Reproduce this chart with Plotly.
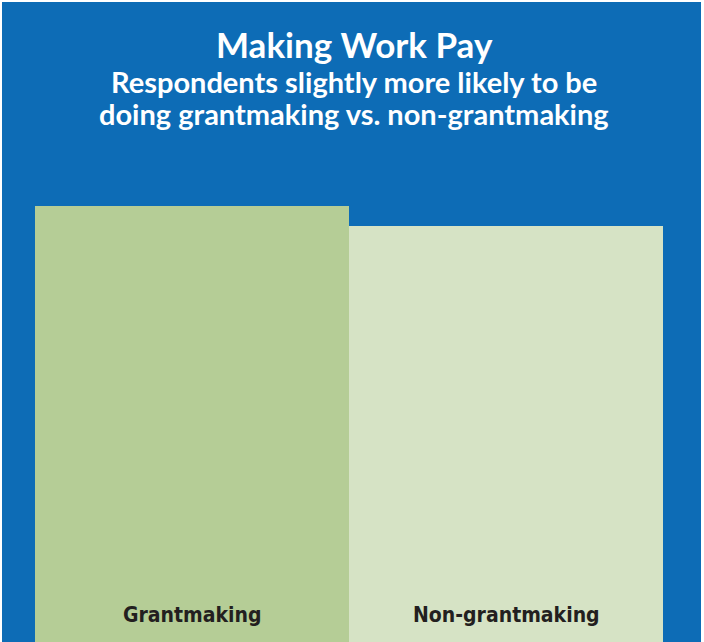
import plotly.graph_objects as go

categories = ["Grantmaking", "Non-grantmaking"]
values = [52.0, 49.6]
bar_colors = ["#b5cd96", "#d6e3c5"]
title_text = "Making Work Pay"
subtitle_lines = ["Respondents slightly more likely to be",
                  "doing grantmaking vs. non-grantmaking"]

W, H = 704, 642
ML, MR, MT, MB = 35, 41, 150, 0
PH = H - MT - MB
PW = W - ML - MR
YMAX = values[0] * PH / 436.0

def py(y):
    return (H - MB - y) / PH

def px(x):
    return (x - ML) / PW

BLUE = "#0d6cb6"

fig = go.Figure()
fig.add_trace(go.Bar(
    x=categories, y=values, marker=dict(color=bar_colors, line=dict(width=0)),
    hoverinfo="skip", showlegend=False,
))

annotations = [
    dict(text="<b>" + title_text + "</b>", x=px(354), xref="paper", y=py(44), yref="paper",
         yanchor="middle", xanchor="center", showarrow=False,
         font=dict(family="Lato", size=35, color="white")),
    dict(text=subtitle_lines[0], x=px(354), xref="paper", y=py(81), yref="paper",
         yanchor="middle", xanchor="center", showarrow=False,
         font=dict(family="Lato", size=29, color="white", weight=700)),
    dict(text=subtitle_lines[1], x=px(354), xref="paper", y=py(114), yref="paper",
         yanchor="middle", xanchor="center", showarrow=False,
         font=dict(family="Lato", size=29, color="white", weight=700)),
]
for c in categories:
    annotations.append(dict(text="<b>" + c + "</b>", x=c, xref="x", y=py(615), yref="paper",
                            yanchor="middle", xanchor="center", showarrow=False,
                            font=dict(family="DejaVu Sans Condensed, sans-serif",
                                      size=21, color="#231f20")))

fig.update_layout(
    width=W, height=H,
    margin=dict(l=ML, r=MR, t=MT, b=MB, pad=0),
    paper_bgcolor="white", plot_bgcolor="rgba(0,0,0,0)",
    bargap=0,
    xaxis=dict(visible=False, range=[-0.5, 1.5]),
    yaxis=dict(visible=False, range=[0, YMAX]),
    annotations=annotations,
    shapes=[dict(type="rect", xref="paper", yref="paper", layer="below",
                 x0=px(2), x1=px(701), y0=py(H + 5), y1=py(2),
                 fillcolor=BLUE, line=dict(width=0))],
)
fig.write_html("out.html", config={"displayModeBar": False},
               post_script="document.body.style.margin='0';document.body.style.overflow='hidden';")
